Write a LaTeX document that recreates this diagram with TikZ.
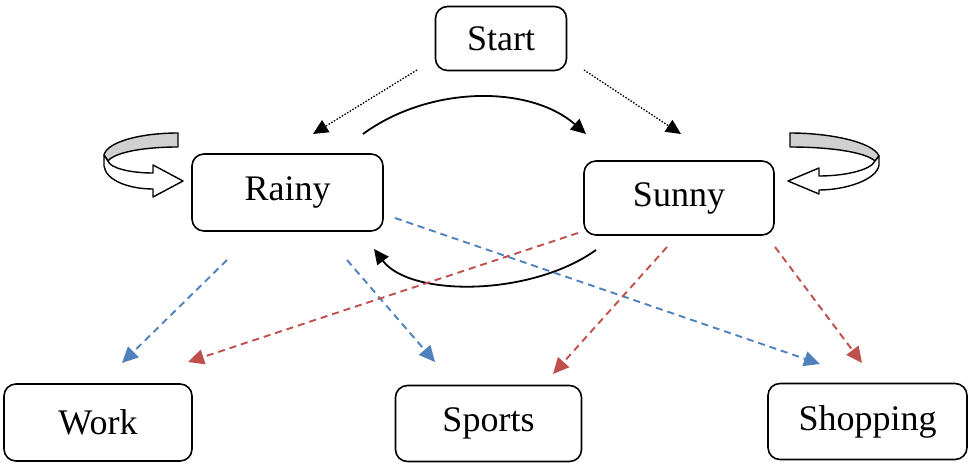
\documentclass[tikz,border=0pt]{standalone}
\usepackage{fontspec}
\setmainfont{Liberation Serif}
\usetikzlibrary{arrows.meta}
\definecolor{myblue}{HTML}{4F81BD}
\definecolor{myred}{HTML}{C0504D}
\definecolor{ribbongray}{HTML}{D0D0D0}
\begin{document}
\begin{tikzpicture}[x=1pt,y=-1pt,
  box/.style={draw,line width=1.6pt,rounded corners=12pt,inner sep=0pt,font=\fontsize{36}{40}\selectfont},
  tipK/.style={-{Triangle[length=15pt,width=14pt]}},
  dotarrow/.style={tipK,line width=1.3pt,dash pattern=on 1.5pt off 1.6pt},
  solidarrow/.style={tipK,line width=1.8pt},
  bluearrow/.style={-{Triangle[length=16pt,width=15pt]},myblue,line width=1.9pt,dash pattern=on 7pt off 5pt},
  redarrow/.style={-{Triangle[length=16pt,width=15pt]},myred,line width=1.9pt,dash pattern=on 7pt off 5pt},
  ribbon/.style={draw=black,line width=1.4pt,line join=round}]
\useasboundingbox (0,0) rectangle (979,468);

% nodes
\node[box,minimum width=131pt,minimum height=64pt] (start) at (501,38.5) {Start};
\node[box,minimum width=191pt,minimum height=77pt] (rainy) at (287.5,192.5) {Rainy};
\node[box,minimum width=190pt,minimum height=74pt] (sunny) at (679,198) {Sunny};
\node[box,minimum width=188pt,minimum height=77pt] (work) at (98,422.5) {Work};
\node[box,minimum width=186pt,minimum height=76pt] (sports) at (488.5,423.5) {Sports};
\node[box,minimum width=199pt,minimum height=76pt] (shopping) at (867.5,421.5) {Shopping};

% free ends of connectors
\coordinate (d1s) at (417,70);
\coordinate (d1e) at (313,134);
\coordinate (d2s) at (584,70);
\coordinate (d2e) at (681,134);
\coordinate (c1s) at (363,134);
\coordinate (c1e) at (586,134);
\coordinate (c2s) at (596,250);
\coordinate (c2e) at (374,249);
\coordinate (b1s) at (227,260);
\coordinate (b1e) at (122,363);
\coordinate (b2s) at (347,260);
\coordinate (b2e) at (435,362);
\coordinate (b3s) at (395,218);
\coordinate (b3e) at (820,364);
\coordinate (r1s) at (578,233);
\coordinate (r1e) at (188,362);
\coordinate (r2s) at (667,247);
\coordinate (r2e) at (553,374);
\coordinate (r3s) at (775,247);
\coordinate (r3e) at (862,363);

% connectors
\draw[dotarrow] (d1s) -- (d1e);
\draw[dotarrow] (d2s) -- (d2e);
\draw[solidarrow] (c1s) .. controls (430,85) and (530,85) .. (c1e);
\draw[solidarrow] (c2s) .. controls (530,297) and (410,297) .. (c2e);
\draw[bluearrow] (b1s) -- (b1e);
\draw[bluearrow] (b2s) -- (b2e);
\draw[bluearrow] (b3s) -- (b3e);
\draw[redarrow] (r1s) -- (r1e);
\draw[redarrow] (r2s) -- (r2e);
\draw[redarrow] (r3s) -- (r3e);

% left self loop (Rainy)
\filldraw[ribbon,fill=ribbongray] (178,133) .. controls (140,133) and (107,142) .. (104,155)
  -- (108,161) .. controls (115,152) and (145,147) .. (178,147) -- cycle;
\filldraw[ribbon,fill=white] (104,155) -- (104,166) .. controls (106,181) and (130,189) .. (153,189)
  -- (153,197) -- (183,181) -- (153,165) -- (153,173)
  .. controls (130,173) and (110,168) .. (108,161) -- cycle;

% right self loop (Sunny)
\filldraw[ribbon,fill=ribbongray] (790,133) .. controls (830,133) and (873,142) .. (879,156)
  -- (875,161) .. controls (865,152) and (830,147) .. (790,147) -- cycle;
\filldraw[ribbon,fill=white] (879,156) -- (879,165) .. controls (877,180) and (845,190) .. (819,190)
  -- (819,194) -- (788,181) -- (819,168) -- (819,176)
  .. controls (845,176) and (871,170) .. (875,161) -- cycle;
\end{tikzpicture}
\end{document}
